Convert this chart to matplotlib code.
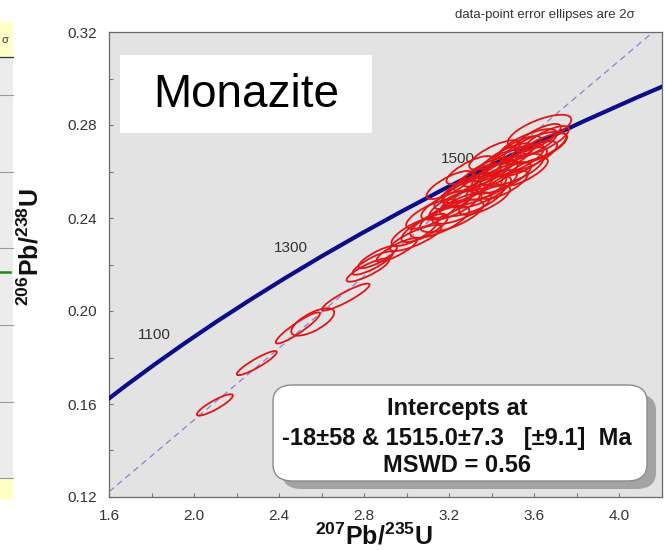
import matplotlib
matplotlib.use('Agg')
import matplotlib.pyplot as plt
from matplotlib.patches import Circle, Rectangle, FancyBboxPatch
from matplotlib.lines import Line2D
from matplotlib.transforms import Affine2D
import numpy as np

plt.rcParams['font.family'] = ['Liberation Sans', 'DejaVu Sans']
plt.rcParams['mathtext.fontset'] = 'custom'
plt.rcParams['mathtext.rm'] = 'Liberation Sans'
plt.rcParams['mathtext.bf'] = 'Liberation Sans:bold'

# ---------------- data ----------------
# Concordia curve (age in Ma, 207Pb/235U, 206Pb/238U)
conc_age = [950, 1000, 1050, 1100, 1150, 1200, 1250, 1300, 1350, 1400, 1450, 1500, 1550, 1600, 1650, 1700]
conc_x = [1.5488, 1.6774, 1.8126, 1.9545, 2.1036, 2.2603, 2.4249, 2.5977, 2.7793, 2.9701,
          3.1705, 3.3810, 3.6022, 3.8345, 4.0784, 4.3347]
conc_y = [0.15878, 0.16780, 0.17690, 0.18606, 0.19530, 0.20460, 0.21398, 0.22344, 0.23296,
          0.24256, 0.25224, 0.26199, 0.27181, 0.28172, 0.29170, 0.30175]
age_labels = [1100, 1300, 1500]

# Discordia intercepts (-18 Ma and 1515 Ma)
disc_x = [-0.01757, 3.4462]
disc_y = [-0.00279, 0.26493]

# Error ellipses: centre, 2-sigma half-widths and error correlation
ell_x = [2.098, 2.295, 2.488, 2.558, 2.713, 2.817, 2.840, 2.863, 2.953, 3.042,
         3.084, 3.117, 3.155, 3.188, 3.211, 3.239, 3.258, 3.286, 3.305, 3.333,
         3.352, 3.380, 3.399, 3.427, 3.446, 3.474, 3.493, 3.521, 3.540, 3.568,
         3.587, 3.615, 3.634, 3.624, 3.653, 3.296, 3.202, 3.413, 3.366, 3.460,
         3.554, 3.037, 3.319, 3.507, 3.225, 3.601, 3.413]
ell_y = [0.1596, 0.1776, 0.1927, 0.1953, 0.2060, 0.2176, 0.2206, 0.2232, 0.2262, 0.2314,
         0.2357, 0.2417, 0.2383, 0.2456, 0.2409, 0.2499, 0.2443, 0.2529, 0.2477, 0.2572,
         0.2512, 0.2598, 0.2542, 0.2632, 0.2572, 0.2658, 0.2606, 0.2692, 0.2641, 0.2714,
         0.2667, 0.2744, 0.2701, 0.2774, 0.2735, 0.2606, 0.2542, 0.2671, 0.2477, 0.2542,
         0.2598, 0.2340, 0.2520, 0.2649, 0.2456, 0.2701, 0.2585]
ell_sx = [0.0845, 0.094, 0.104, 0.101, 0.112, 0.100, 0.095, 0.090, 0.095, 0.121,
          0.1094, 0.1198, 0.1386, 0.1198, 0.1494, 0.1094, 0.1386, 0.1198, 0.1494, 0.1094,
          0.1386, 0.1198, 0.1198, 0.1094, 0.1386, 0.1198, 0.1494, 0.1094, 0.1198, 0.1386,
          0.1198, 0.1094, 0.1198, 0.1494, 0.1094, 0.1094, 0.1094, 0.1198, 0.1198, 0.1094,
          0.1094, 0.1094, 0.1494, 0.1386, 0.1198, 0.1494, 0.1094]
ell_sy = [0.0046, 0.0052, 0.0067, 0.0059, 0.0058, 0.0050, 0.0050, 0.0048, 0.0050, 0.0056,
          0.00606, 0.00632, 0.00684, 0.00632, 0.00701, 0.00606, 0.00684, 0.00632, 0.00701, 0.00606,
          0.00684, 0.00632, 0.00632, 0.00606, 0.00684, 0.00632, 0.00701, 0.00606, 0.00632, 0.00684,
          0.00632, 0.00606, 0.00632, 0.00701, 0.00606, 0.00606, 0.00606, 0.00632, 0.00632, 0.00606,
          0.00606, 0.00606, 0.00701, 0.00684, 0.00632, 0.00701, 0.00606]
ell_rho = [0.88, 0.91, 0.92, 0.69, 0.91, 0.85, 0.85, 0.83, 0.85, 0.81,
           0.771, 0.741, 0.732, 0.741, 0.694, 0.771, 0.732, 0.741, 0.694, 0.771,
           0.732, 0.741, 0.741, 0.771, 0.732, 0.741, 0.694, 0.771, 0.741, 0.732,
           0.741, 0.771, 0.741, 0.694, 0.771, 0.771, 0.771, 0.741, 0.741, 0.771,
           0.771, 0.771, 0.694, 0.732, 0.741, 0.694, 0.771]

x_ticks = [1.6, 2.0, 2.4, 2.8, 3.2, 3.6, 4.0]
x_tick_labels = ['1.6', '2.0', '2.4', '2.8', '3.2', '3.6', '4.0']
y_ticks = [0.12, 0.16, 0.20, 0.24, 0.28, 0.32]
y_tick_labels = ['0.12', '0.16', '0.20', '0.24', '0.28', '0.32']

title_text = 'Monazite'
note_text = 'data-point error ellipses are 2\u03c3'
result_lines = ['Intercepts at', '-18\u00b158 & 1515.0\u00b17.3   [\u00b19.1]  Ma', 'MSWD = 0.56']

# ---------------- figure ----------------
W, H = 665, 550
fig = plt.figure(figsize=(W / 100, H / 100), dpi=100)
fig.patch.set_facecolor('white')

def fx(px):
    return px / W

def fy(py):
    return 1 - py / H

# cropped table fragment at far left
fig.add_artist(Rectangle((0, fy(478)), fx(13), fy(57) - fy(478), transform=fig.transFigure,
                         facecolor='#ececec', edgecolor='none'))
fig.add_artist(Rectangle((0, fy(57)), fx(13), fy(22) - fy(57), transform=fig.transFigure,
                         facecolor='#ffffc6', edgecolor='none'))
fig.add_artist(Rectangle((0, fy(500)), fx(13), fy(478) - fy(500), transform=fig.transFigure,
                         facecolor='#ffffc6', edgecolor='none'))
fig.add_artist(Line2D([0, fx(13)], [fy(57), fy(57)], transform=fig.transFigure, color='#333333', lw=0.9))
for py in [95, 172, 248, 325, 402, 478]:
    fig.add_artist(Line2D([0, fx(13)], [fy(py), fy(py)], transform=fig.transFigure, color='#9a9a9a', lw=0.8))
fig.add_artist(Line2D([0, fx(10)], [fy(272), fy(272)], transform=fig.transFigure, color='#1a8a1a', lw=1.8))
fig.text(fx(1), fy(40), '\u03c3', fontsize=8, color='#333333', ha='left', va='center')

ax = fig.add_axes([fx(109), fy(497), fx(662) - fx(109), fy(32) - fy(497)])
ax.set_facecolor('#e3e3e3')
ax.set_xlim(1.6, 4.2)
ax.set_ylim(0.12, 0.32)

# discordia
ax.axline((disc_x[0], disc_y[0]), (disc_x[1], disc_y[1]), color='#8484d8', lw=0.9,
          linestyle=(0, (5, 3.5)), zorder=2)

# concordia
ax.plot(conc_x, conc_y, color='#0d0d8c', lw=3.0, solid_capstyle='butt', zorder=3)
for a, x, y in zip(conc_age, conc_x, conc_y):
    if a in age_labels:
        ax.annotate(str(a), xy=(x, y), xytext=(-21.5, 5.8), textcoords='offset points',
                    ha='center', va='center', fontsize=11, color='#333333', zorder=4)

# error ellipses
for cx, cy, sx, sy, r in zip(ell_x, ell_y, ell_sx, ell_sy, ell_rho):
    m = np.array([[sx, 0.0, cx], [r * sy, sy * np.sqrt(1 - r * r), cy], [0, 0, 1]])
    tr = Affine2D(m) + ax.transData
    ax.add_patch(Circle((0, 0), 1, transform=tr, fill=False, edgecolor='#e31414', lw=1.3, zorder=5))

# axes styling
for s in ax.spines.values():
    s.set_color('#6a6a6a')
    s.set_linewidth(0.9)
ax.set_xticks(x_ticks)
ax.set_xticklabels(x_tick_labels)
ax.set_yticks(y_ticks)
ax.set_yticklabels(y_tick_labels)
ax.set_xticks([1.8, 2.2, 2.6, 3.0, 3.4, 3.8, 4.2], minor=True)
ax.set_yticks([0.14, 0.18, 0.22, 0.26, 0.30], minor=True)
ax.tick_params(which='both', direction='in', length=3, width=0.8, color='#777777',
               labelsize=11, labelcolor='#333333', pad=9)

# labels
fig.text(fx(374), fy(536), r'$^{\mathbf{207}}\mathbf{Pb/}^{\mathbf{235}}\mathbf{U}$',
         fontsize=18, ha='center', va='center', color='#111111')
fig.text(fx(30), fy(247), r'$^{\mathbf{206}}\mathbf{Pb/}^{\mathbf{238}}\mathbf{U}$',
         fontsize=18, ha='center', va='center', rotation=90, color='#111111')

fig.text(fx(635), fy(15), note_text, fontsize=9.5, ha='right', va='center', color='#333333')

# Monazite box
fig.add_artist(Rectangle((fx(120), fy(133)), fx(372) - fx(120), fy(55) - fy(133),
                         transform=fig.transFigure, facecolor='white', edgecolor='none', zorder=6))
fig.text(fx(246), fy(95), title_text, fontsize=33, ha='center', va='center', color='black', zorder=7)

# intercept result box with shadow
shadow = FancyBboxPatch((fx(282), fy(489)), fx(656) - fx(282), fy(394) - fy(489),
                        boxstyle='round,pad=0,rounding_size=0.03', transform=fig.transFigure,
                        facecolor='#a3a3a3', edgecolor='none', zorder=6)
fig.add_artist(shadow)
box = FancyBboxPatch((fx(273), fy(481)), fx(647) - fx(273), fy(385) - fy(481),
                     boxstyle='round,pad=0,rounding_size=0.03', transform=fig.transFigure,
                     facecolor='white', edgecolor='#8a8a8a', lw=1.0, zorder=7)
fig.add_artist(box)
for txt, py in zip(result_lines, [408, 439, 466]):
    fig.text(fx(457), fy(py), txt, fontsize=17, fontweight='bold', ha='center', va='center',
             color='#111111', zorder=8)

fig.savefig('out.png', dpi=100)
